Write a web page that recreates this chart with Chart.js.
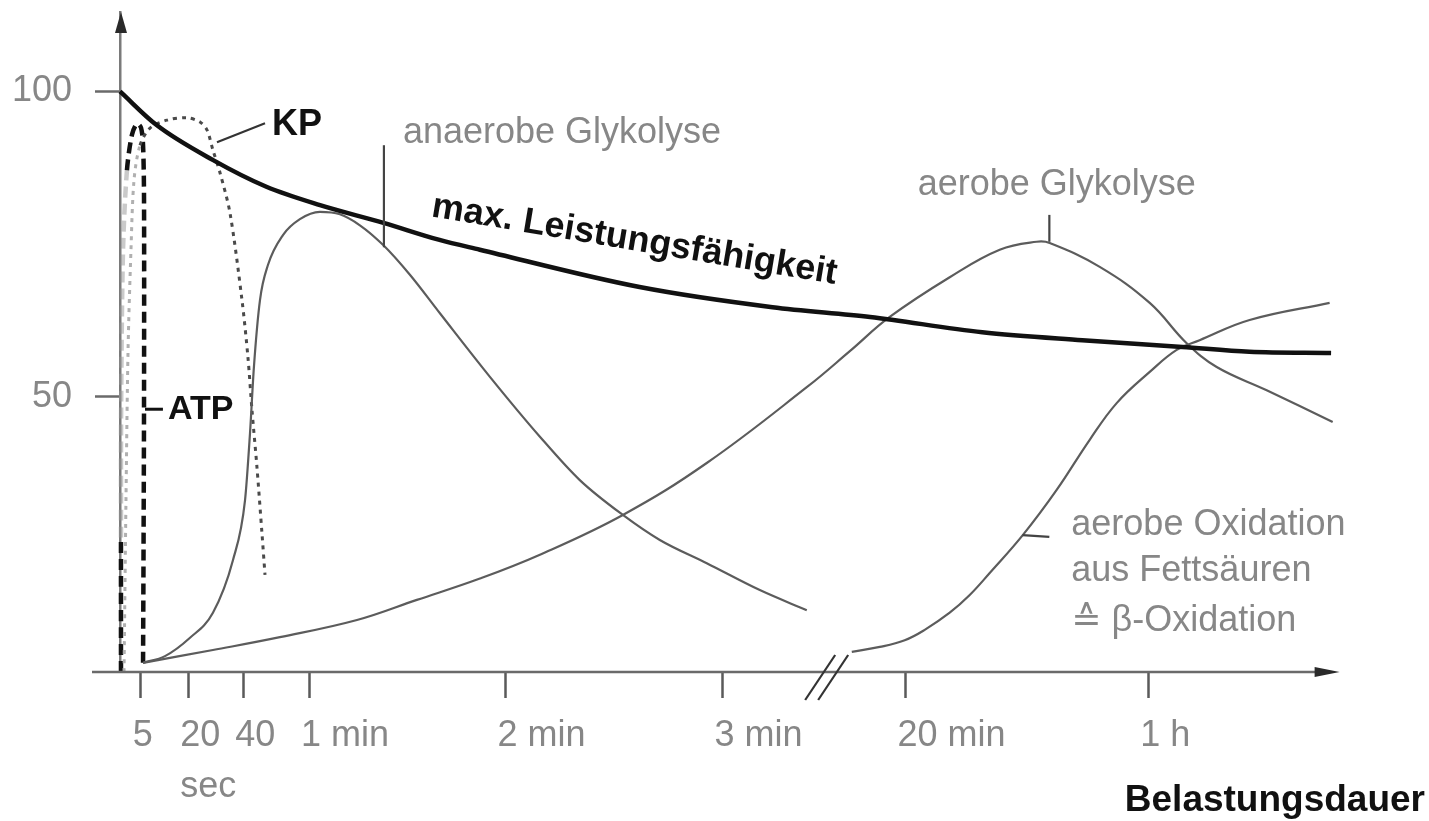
<!DOCTYPE html>
<html>
<head>
<meta charset="utf-8">
<title>Energiebereitstellung und Belastungsdauer</title>
<script src="https://cdn.jsdelivr.net/npm/chart.js"></script>
<style>
  html, body { margin: 0; padding: 0; background: #fff; }
  #wrap { width: 1429px; height: 821px; position: relative; }
</style>
</head>
<body>
<div id="wrap"><canvas id="myChart"></canvas></div>

<script>
    // schematic time axis (0 = start of load, 100 = arrow tip), y in % of max power
    var tickPos = [1.7, 5.6, 10.1, 15.5, 31.6, 49.4, 64.4, 84.3];
    var tickLabels = ["5", ["20", "sec"], "40", "1 min", "2 min", "3 min", "20 min", "1 h"];
    var yTicks = [50, 100];

    var maxLeistung = [[0, 100], [3.0, 94.5], [7.6, 88.8], [12.0, 84.4], [16.4, 81.4], [21.6, 78.5],
        [26.2, 75.7], [29.5, 74.1], [42.6, 68.0], [53.5, 64.7], [61.5, 63.1],
        [70.7, 60.6], [78.9, 59.3], [87.1, 58.2], [92.6, 57.4], [99.3, 57.2]];

    var atp = [[0.08, 5], [0.08, 27], [0.1, 50], [0.25, 74.1], [0.57, 87.1], [0.98, 92.9],
        [1.39, 94.7], [1.72, 94.1], [1.89, 91.2], [1.97, 82.2], [1.97, 49.5], [1.93, 25], [1.89, 6.3]];

    var kp = [[0.33, 5], [0.49, 33.1], [0.66, 57.7], [0.9, 74.1], [1.15, 85.5], [1.64, 91.2],
        [2.46, 94.0], [3.85, 95.3], [5.49, 95.7], [6.56, 95.0], [7.13, 93.7], [7.62, 90.4],
        [8.2, 86.7], [9.02, 80.1], [10.0, 65.9], [10.49, 56.5], [10.82, 47.9], [11.23, 38.5],
        [11.64, 27.7], [11.89, 20.9]];

    var anaerobGly = [[1.89, 6.5], [3.69, 7.6], [5.74, 10.6], [7.62, 14.7], [9.26, 23.3], [10.25, 33.1],
        [10.66, 44.1], [10.98, 54.9], [11.48, 65.9], [12.13, 71.6], [13.36, 76.5], [14.75, 79.1],
        [16.39, 80.3], [18.03, 79.9], [19.67, 78.1], [21.56, 74.9], [23.77, 70.0], [26.23, 63.7],
        [30.33, 53.3], [34.43, 43.5], [37.7, 36.4], [41.23, 30.7], [44.26, 26.6], [48.11, 22.8],
        [52.46, 18.4], [56.31, 15.1]];

    var aerobGly = [[1.89, 6.5], [7.62, 8.6], [13.11, 10.7], [19.43, 13.5], [24.34, 16.8], [29.51, 20.3],
        [34.43, 24.2], [41.23, 30.7], [48.11, 39.2], [56.31, 51.6], [59.84, 57.5], [63.11, 63.1],
        [68.03, 69.6], [72.13, 74.1], [75.16, 75.4], [76.23, 75.2], [80.33, 71.3], [84.43, 65.4],
        [87.46, 58.8], [89.92, 54.9], [94.02, 51.1], [99.43, 45.9]];

    var betaOx = [[60.0, 8.3], [62.3, 9.1], [64.34, 10.2], [65.98, 11.9], [68.03, 14.7], [69.67, 17.6],
        [71.31, 21.2], [74.02, 27.4], [76.8, 34.8], [79.51, 43.0], [81.72, 49.0], [84.43, 54.1],
        [86.64, 57.7], [88.52, 59.3], [92.62, 62.6], [99.18, 65.4]];

    function pts(a) {
        return a.map(function (p) { return { x: p[0], y: p[1] }; });
    }

    Chart.defaults.font.family = "'Liberation Sans', 'DejaVu Sans', Arial, sans-serif";

    var grey = "#878787";
    var thin = "#5c5c5c";

    // axis arrows, break mark, curve labels and leader lines
    var deco = {
        id: "deco",
        afterDraw: function (chart) {
            var ctx = chart.ctx, xs = chart.scales.x, ys = chart.scales.y, area = chart.chartArea;
            var X = function (v) { return xs.getPixelForValue(v); };
            var Y = function (v) { return ys.getPixelForValue(v); };
            var y0 = area.bottom, xEnd = X(100);

            ctx.save();
            ctx.lineCap = "butt";

            // x axis, running a little left of the y axis
            ctx.strokeStyle = "#6a6a6a";
            ctx.lineWidth = 2.5;
            ctx.beginPath();
            ctx.moveTo(area.left - 28, y0);
            ctx.lineTo(xEnd - 20, y0);
            ctx.stroke();

            ctx.fillStyle = "#2a2a2a";
            ctx.beginPath();
            ctx.moveTo(xEnd, y0);
            ctx.lineTo(xEnd - 25, y0 - 5);
            ctx.lineTo(xEnd - 25, y0 + 5);
            ctx.closePath();
            ctx.fill();

            ctx.beginPath();
            ctx.moveTo(area.left + 1, area.top);
            ctx.lineTo(area.left - 5, area.top + 21);
            ctx.lineTo(area.left + 7, area.top + 21);
            ctx.closePath();
            ctx.fill();

            // axis break between 3 min and 20 min
            var xb = X(57.9);
            ctx.strokeStyle = "#333";
            ctx.lineWidth = 2.2;
            [-21, -8].forEach(function (d) {
                ctx.beginPath();
                ctx.moveTo(xb + d, y0 + 28);
                ctx.lineTo(xb + d + 30, y0 - 17);
                ctx.stroke();
            });

            function line(x1, y1, x2, y2, w, c) {
                ctx.strokeStyle = c;
                ctx.lineWidth = w;
                ctx.beginPath();
                ctx.moveTo(x1, y1);
                ctx.lineTo(x2, y2);
                ctx.stroke();
            }
            function text(s, x, y, font, c) {
                ctx.font = font;
                ctx.fillStyle = c;
                ctx.textAlign = "left";
                ctx.textBaseline = "middle";
                ctx.fillText(s, x, y);
            }

            var norm = "36px 'Liberation Sans', 'DejaVu Sans', Arial, sans-serif";
            var bold = "bold 36px 'Liberation Sans', 'DejaVu Sans', Arial, sans-serif";

            // KP
            line(X(7.95), Y(91.7), X(11.89), Y(94.8), 2.2, "#333");
            text("KP", X(12.46), Y(94.5), bold, "#111");

            // ATP
            line(X(2.05), Y(48.0), X(3.52), Y(48.0), 3, "#111");
            text("ATP", X(3.93), Y(47.9), "bold 34px 'Liberation Sans', Arial, sans-serif", "#111");

            // anaerobe Glykolyse
            line(X(21.64), Y(91.2), X(21.64), Y(74.5), 2.2, "#444");
            text("anaerobe Glykolyse", X(23.2), Y(93.2), norm, grey);

            // aerobe Glykolyse
            line(X(76.2), Y(79.8), X(76.2), Y(75.4), 2.2, "#444");
            text("aerobe Glykolyse", X(65.4), Y(84.7), norm, grey);

            // aerobe Oxidation aus Fettsäuren
            line(X(74.0), Y(27.4), X(76.2), Y(27.1), 2.2, "#444");
            text("aerobe Oxidation", X(78.0), Y(29.05), norm, grey);
            text("aus Fettsäuren", X(78.0), Y(21.5), norm, grey);
            text("\u2259 \u03B2-Oxidation", X(78.0), Y(13.3), norm, grey);

            // label along the max. Leistungsfähigkeit curve
            ctx.save();
            ctx.translate(X(42.05), Y(74.05));
            ctx.rotate(9.5 * Math.PI / 180);
            ctx.font = bold;
            ctx.fillStyle = "#111";
            ctx.textAlign = "center";
            ctx.textBaseline = "alphabetic";
            ctx.fillText("max. Leistungsfähigkeit", 0, 0);
            ctx.restore();

            ctx.restore();
        }
    };

    var ctx = document.getElementById("myChart").getContext("2d");
    new Chart(ctx, {
        type: "line",
        data: {
            datasets: [
                {
                    label: "max. Leistungsfähigkeit",
                    data: pts(maxLeistung),
                    borderColor: "#111",
                    borderWidth: 4.5,
                    cubicInterpolationMode: "monotone"
                },
                {
                    label: "anaerobe Glykolyse",
                    data: pts(anaerobGly),
                    borderColor: thin,
                    borderWidth: 2.2,
                    cubicInterpolationMode: "monotone"
                },
                {
                    label: "aerobe Glykolyse",
                    data: pts(aerobGly),
                    borderColor: thin,
                    borderWidth: 2.2,
                    tension: 0.4
                },
                {
                    label: "β-Oxidation",
                    data: pts(betaOx),
                    borderColor: thin,
                    borderWidth: 2.2,
                    tension: 0.4
                },
                {
                    label: "KP",
                    data: pts(kp),
                    borderColor: "#4a4a4a",
                    borderWidth: 3,
                    borderDash: [4, 5],
                    tension: 0.3,
                    segment: {
                        borderColor: function (c) { return c.p0DataIndex < 5 ? "#b0b0b0" : "#4a4a4a"; }
                    }
                },
                {
                    label: "ATP",
                    data: pts(atp),
                    borderColor: "#111",
                    borderWidth: 4.5,
                    borderDash: [11, 6],
                    tension: 0.3,
                    segment: {
                        borderColor: function (c) {
                            return (c.p0DataIndex >= 1 && c.p0DataIndex <= 3) ? "rgba(150,150,150,0.5)" : "#111";
                        }
                    }
                }
            ]
        },
        options: {
            responsive: true,
            maintainAspectRatio: false,
            animation: false,
            layout: { padding: { top: 12, right: 4, bottom: 0, left: 0 } },
            elements: {
                point: { radius: 0, hoverRadius: 0 },
                line: { fill: false, borderCapStyle: "butt" }
            },
            datasets: { line: { clip: false } },
            plugins: {
                legend: { display: false },
                tooltip: { enabled: false }
            },
            scales: {
                x: {
                    type: "linear",
                    min: 0,
                    max: 107,
                    afterBuildTicks: function (scale) {
                        scale.ticks = tickPos.map(function (v) { return { value: v }; });
                    },
                    afterFit: function (scale) {
                        scale.height = 149;
                        scale.paddingLeft = 0;
                        scale.paddingRight = 0;
                    },
                    border: { display: false },
                    grid: {
                        drawOnChartArea: false,
                        drawTicks: true,
                        tickLength: 26,
                        tickWidth: 2.5,
                        tickColor: "#5a5a5a"
                    },
                    ticks: {
                        autoSkip: false,
                        maxRotation: 0,
                        align: "start",
                        labelOffset: -8,
                        padding: 13,
                        color: grey,
                        font: { size: 36, lineHeight: 1.4 },
                        callback: function (value, index) { return tickLabels[index]; }
                    },
                    title: {
                        display: true,
                        text: "Belastungsdauer",
                        align: "end",
                        color: "#111",
                        font: { size: 37, weight: "bold", lineHeight: 1 },
                        padding: { top: 0, bottom: 2 }
                    }
                },
                y: {
                    type: "linear",
                    min: 5,
                    max: 113,
                    afterBuildTicks: function (scale) {
                        scale.ticks = yTicks.map(function (v) { return { value: v }; });
                    },
                    afterFit: function (scale) {
                        scale.width = 120;
                        scale.paddingTop = 0;
                        scale.paddingBottom = 0;
                    },
                    border: { display: true, color: "#7a7a7a", width: 2.5 },
                    grid: {
                        drawOnChartArea: false,
                        drawTicks: true,
                        tickLength: 25,
                        tickWidth: 2.5,
                        tickColor: "#6a6a6a"
                    },
                    ticks: {
                        padding: 23,
                        color: grey,
                        font: { size: 36 },
                        callback: function (value) { return String(value); }
                    }
                }
            }
        },
        plugins: [deco]
    });
</script>
</body>
</html>
